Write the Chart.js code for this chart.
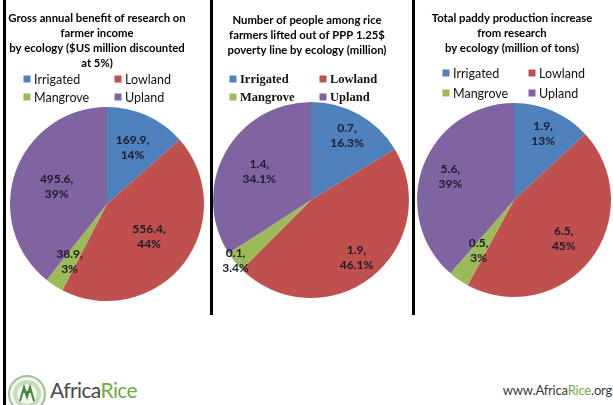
<!DOCTYPE html>
<html>
<head>
<meta charset="utf-8">
<script src="https://cdn.jsdelivr.net/npm/chart.js@4.4.1/dist/chart.umd.min.js"></script>
<style>
  html, body { margin: 0; padding: 0; background: #fff; }
  body { width: 613px; height: 405px; position: relative; overflow: hidden; font-family: Lato, sans-serif; }
  canvas { position: absolute; top: 0; }
  .rule { position: absolute; background: #000; width: 3px; }
  .logo { position: absolute; left: 50px; top: 377px; font-size: 21px; color: #4a4a4a; letter-spacing: -0.6px; }
  .url { position: absolute; right: 1px; top: 382px; font-size: 13px; color: #3a3a3a; letter-spacing: -0.2px; }
  .green { color: #6fae3f; }
</style>
</head>
<body>
<canvas id="c1"></canvas>
<canvas id="c2"></canvas>
<canvas id="c3"></canvas>

<div class="rule" style="left:3px; top:0; height:405px;"></div>
<div class="rule" style="left:210px; top:0; height:315px;"></div>
<div class="rule" style="left:412px; top:0; height:315px;"></div>

<svg style="position:absolute; left:7px; top:373px;" width="42" height="32" viewBox="0 0 42 32">
  <circle cx="20" cy="21" r="18" fill="#f4f8ef" stroke="#9cc28f" stroke-width="2"/>
  <circle cx="20" cy="21" r="12" fill="none" stroke="#c7dcbf" stroke-width="4"/>
  <path d="M13 28 L17 14 L20 24 L23 14 L27 28 M16 19 L24 19" fill="none" stroke="#3f8a3a" stroke-width="2"/>
</svg>
<div class="logo">Africa<span class="green">Rice</span></div>
<div class="url">www.Africa<span class="green">Rice</span>.org</div>

<script>
// categories and values
const ecologies = ["Irrigated", "Lowland", "Mangrove", "Upland"];
const colours = ["#4F81BD", "#C0504D", "#9BBB59", "#8064A2"];

const benefitValues = [169.9, 556.4, 38.9, 495.6];
const benefitPercents = [14, 44, 3, 39];

const povertyValues = [0.7, 1.9, 0.1, 1.4];
const povertyPercents = [16.3, 46.1, 3.4, 34.1];

const paddyValues = [1.9, 6.5, 0.5, 5.6];
const paddyPercents = [13, 45, 3, 39];

const H = 320;

const panels = [
  {
    id: "c1", left: 0, width: 210, cx: 107, cy: 204, r: 97,
    title: ["Gross annual benefit of research on", "farmer income",
            "by ecology ($US million discounted", "at 5%)"],
    titleX: 97, titleY: 18,
    legendFont: "12.5px Lato", legendX: [27, 118], legendY: [79, 97],
    data: benefitValues, values: benefitValues, percents: benefitPercents, decimals: 0,
    labelR: [0.64, 0.55, 0.71, 0.55]
  },
  {
    id: "c2", left: 213, width: 199, cx: 311, cy: 200, r: 98,
    title: ["Number of people among rice", "farmers lifted out of PPP 1.25$",
            "poverty line by ecology (million)"],
    titleX: 94, titleY: 20,
    legendFont: "bold 12.5px 'Liberation Serif'", legendX: [20, 110], legendY: [79, 97],
    data: povertyPercents, values: povertyValues, percents: povertyPercents, decimals: 1,
    labelR: [0.75, 0.75, 0.99, 0.6]
  },
  {
    id: "c3", left: 415, width: 198, cx: 514, cy: 200, r: 97,
    title: ["Total paddy production increase", "from research",
            "by ecology (million of tons)"],
    titleX: 97, titleY: 18,
    legendFont: "12.5px Lato", legendX: [31, 117], legendY: [73, 93],
    data: paddyValues, values: paddyValues, percents: paddyPercents, decimals: 0,
    labelR: [0.75, 0.65, 0.64, 0.7]
  }
];

const decorPlugin = {
  id: "decor",
  afterDraw(chart) {
    const p = chart.options.plugins.decor;
    const ctx = chart.ctx;
    ctx.save();
    ctx.fillStyle = "#000";
    ctx.textAlign = "center";
    ctx.textBaseline = "middle";
    ctx.font = "bold 11.3px Lato";
    p.title.forEach((line, i) => ctx.fillText(line, p.titleX, p.titleY + i * 15));

    // legend, two columns
    ctx.font = p.legendFont;
    ctx.textAlign = "left";
    chart.data.labels.forEach((name, i) => {
      const x = p.legendX[i % 2];
      const y = p.legendY[Math.floor(i / 2)];
      ctx.fillStyle = colours[i];
      ctx.fillRect(x - 3.5, y - 3.5, 7, 7);
      ctx.fillStyle = "#111";
      ctx.fillText(name, x + 7, y + 1);
    });

    // data labels inside slices
    const meta = chart.getDatasetMeta(0);
    ctx.font = "bold 12px Lato";
    ctx.textAlign = "center";
    ctx.fillStyle = "#1c1c2a";
    meta.data.forEach((arc, i) => {
      const mid = (arc.startAngle + arc.endAngle) / 2;
      const rr = arc.outerRadius * p.labelR[i];
      const x = arc.x + Math.cos(mid) * rr;
      const y = arc.y + Math.sin(mid) * rr;
      ctx.fillText(p.values[i] + ",", x, y - 7.5);
      ctx.fillText(p.percents[i].toFixed(p.decimals) + "%", x, y + 7.5);
    });
    ctx.restore();
  }
};

panels.forEach(p => {
  const cv = document.getElementById(p.id);
  cv.width = p.width;
  cv.height = H;
  cv.style.left = p.left + "px";
  const cx = p.cx - p.left;

  new Chart(cv, {
    type: "pie",
    data: {
      labels: ecologies,
      datasets: [{
        data: p.data,
        backgroundColor: colours,
        borderWidth: 0,
        hoverOffset: 0
      }]
    },
    options: {
      responsive: false,
      animation: false,
      layout: {
        padding: {
          left: cx - p.r,
          right: p.width - (cx + p.r),
          top: p.cy - p.r,
          bottom: H - (p.cy + p.r)
        }
      },
      plugins: {
        legend: { display: false },
        title: { display: false },
        tooltip: { enabled: false },
        decor: p
      }
    },
    plugins: [decorPlugin]
  });
});
</script>
</body>
</html>
